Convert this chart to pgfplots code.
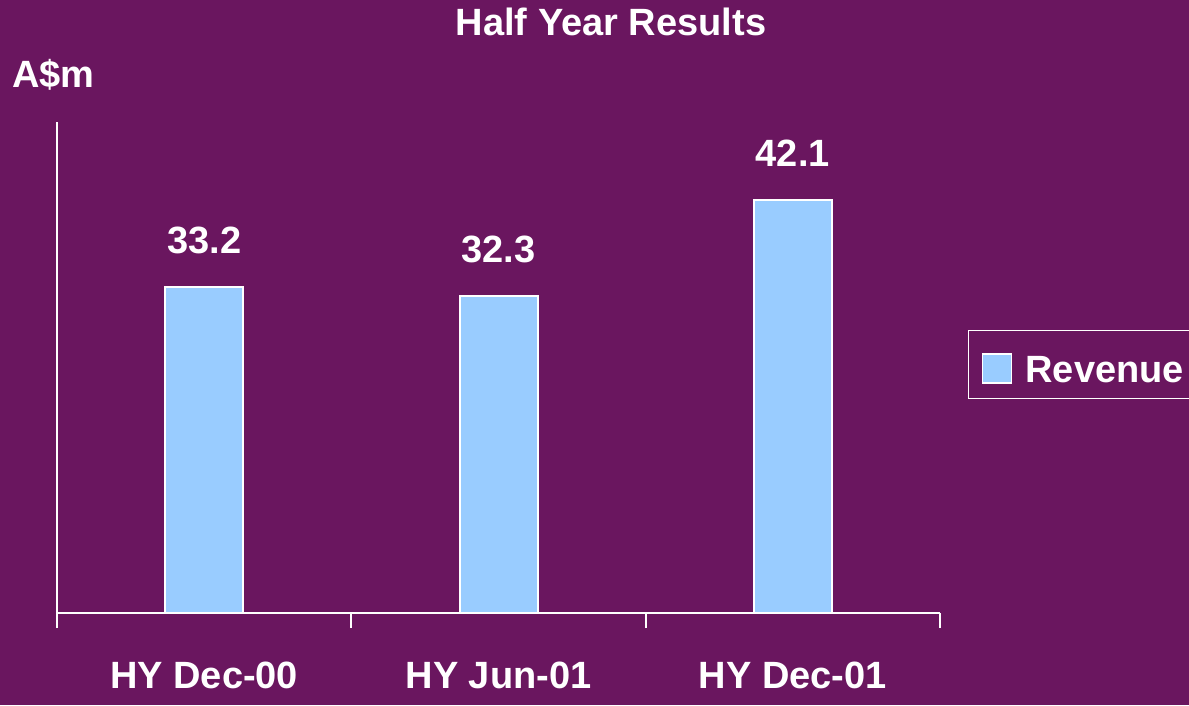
\documentclass[border=0pt]{standalone}
\usepackage{fontspec}
\setmainfont{Liberation Sans}
\usepackage{pgfplots}
\pgfplotsset{compat=1.18}
\definecolor{bg}{HTML}{6A165F}
\definecolor{barblue}{HTML}{99CCFF}
\newcommand\bigfont{\fontsize{38}{44}\selectfont\bfseries}
\begin{document}
\begin{tikzpicture}
\useasboundingbox (0,0) rectangle (1189pt,705pt);
\clip (0,0) rectangle (1189pt,705pt);
\fill[bg] (0,0) rectangle (1189pt,705pt);
\begin{axis}[
 at={(57pt,92pt)}, anchor=south west,
 scale only axis, width=883pt, height=491pt,
 xmin=-0.5, xmax=2.5, ymin=0, ymax=50,
 ybar, bar width=0.265,
 /pgf/number format/assume math mode=true,
 axis x line=bottom, axis y line=left,
 axis line style={white, line width=2pt, -},
 ytick=\empty,
 xtick={-0.5,0.5,1.5,2.5}, xticklabels={},
 tick align=outside, major tick length=15pt,
 tick style={white, line width=2pt},
 extra x ticks={0,1,2},
 extra x tick labels={HY Dec-00,HY Jun-01,HY Dec-01},
 extra x tick style={major tick length=0pt, tick style={draw=none}},
 xticklabel style={font=\bigfont, text=white, anchor=base, yshift=-75pt},
 nodes near coords,
 every node near coord/.append style={font=\bigfont, text=white, anchor=base, yshift=33pt},
 legend style={at={(rel axis cs:1.0317,0.5764)}, anchor=north west,
   draw=white, line width=1.5pt, fill=none, text=white, font=\bigfont,
   inner xsep=13pt, inner ysep=5pt, nodes={text height=45pt, text depth=9pt}},
 legend image code/.code={\draw[fill=barblue, draw=white, line width=1.5pt] (0pt,-18.5pt) rectangle (29pt,10.5pt); \path (40pt,0pt);},
]
\addplot[fill=barblue, draw=white, line width=2pt] coordinates {(0,33.2) (1,32.3) (2,42.1)};
\addlegendentry{Revenue}
\end{axis}
\node[anchor=base, text=white, font=\bigfont] at (611pt,669pt) {Half Year Results};
\node[anchor=base west, inner sep=0pt, text=white, font=\bigfont] at (12pt,617pt) {A\$m};
\end{tikzpicture}
\end{document}
